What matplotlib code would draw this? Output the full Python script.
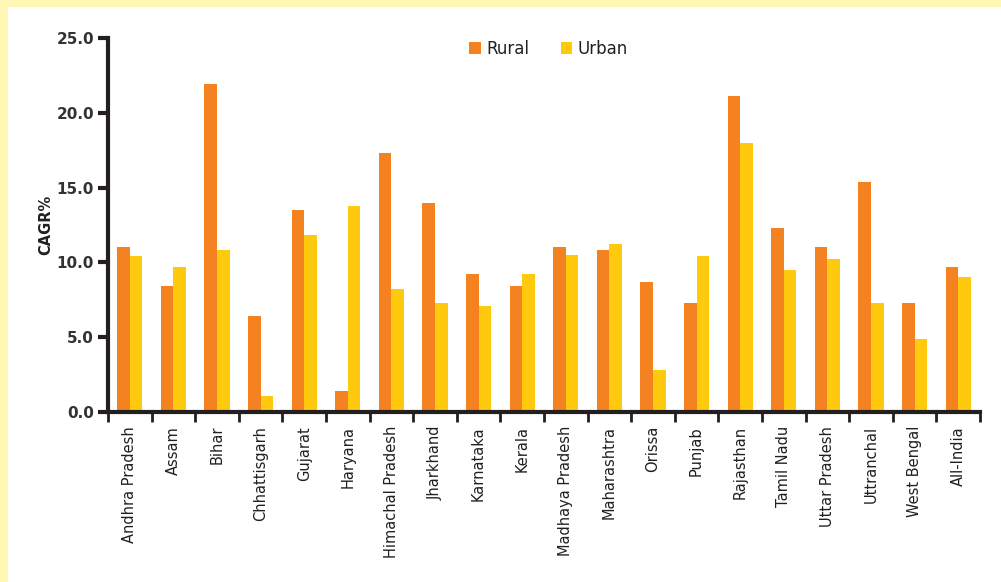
import numpy as np
import matplotlib
matplotlib.use("Agg")
import matplotlib.pyplot as plt
from matplotlib.patches import Rectangle

states = ["Andhra Pradesh", "Assam", "Bihar", "Chhattisgarh", "Gujarat", "Haryana",
          "Himachal Pradesh", "Jharkhand", "Karnataka", "Kerala", "Madhaya Pradesh",
          "Maharashtra", "Orissa", "Punjab", "Rajasthan", "Tamil Nadu", "Uttar Pradesh",
          "Uttranchal", "West Bengal", "All-India"]
rural = [11.0, 8.4, 21.9, 6.4, 13.5, 1.4, 17.3, 14.0, 9.2, 8.4, 11.0, 10.8, 8.7, 7.3,
         21.1, 12.3, 11.0, 15.4, 7.3, 9.7]
urban = [10.4, 9.7, 10.8, 1.1, 11.8, 13.8, 8.2, 7.3, 7.1, 9.2, 10.5, 11.2, 2.8, 10.4,
         18.0, 9.5, 10.2, 7.3, 4.9, 9.0]
yticks = [0, 5, 10, 15, 20, 25]

ORANGE = "#F58220"
YELLOW = "#FFC90E"
DARK = "#231F20"
FRAME = "#FFF8B4"

fig = plt.figure(figsize=(10.01, 5.82), dpi=100, facecolor="white")
# pale yellow frame on left and top edges
fig.patches.append(Rectangle((0, 0), 8 / 1001, 1, transform=fig.transFigure,
                             facecolor=FRAME, edgecolor="none"))
fig.patches.append(Rectangle((0, 1 - 7 / 582), 1, 7 / 582, transform=fig.transFigure,
                             facecolor=FRAME, edgecolor="none"))
ax = fig.add_axes([108 / 1001, 1 - 412 / 582, 872 / 1001, 374 / 582])
ax.set_facecolor("none")

x = np.arange(len(states))
w = 0.29
ax.bar(x - w / 2, rural, w, color=ORANGE, label="Rural")
ax.bar(x + w / 2, urban, w, color=YELLOW, label="Urban")

ax.set_xlim(-0.5, len(states) - 0.5)
ax.set_ylim(0, 25)
for s in ["top", "right"]:
    ax.spines[s].set_visible(False)
for s in ["left", "bottom"]:
    ax.spines[s].set_color(DARK)
    ax.spines[s].set_linewidth(3)

ax.set_yticks(yticks)
ax.set_yticklabels([f"{v:.1f}" for v in yticks], fontsize=11, fontweight="bold", color="#333333")
ax.tick_params(axis="y", length=7, width=3, color=DARK, pad=3)

ax.set_xticks(np.arange(len(states) + 1) - 0.5)
ax.set_xticklabels([])
ax.tick_params(axis="x", which="major", length=7, width=2, color=DARK)
ax.set_xticks(x, minor=True)
ax.set_xticklabels(states, minor=True, rotation=90, fontsize=10.5, color=DARK)
ax.tick_params(axis="x", which="minor", length=0, pad=10)

ax.set_ylabel("CAGR%", fontsize=10.5, fontweight="bold", color=DARK, labelpad=2)

ax.legend(loc="upper center", bbox_to_anchor=(0.505, 1.035), ncol=2, frameon=False,
          fontsize=12, handlelength=0.7, handleheight=0.7, handletextpad=0.3,
          columnspacing=1.9, labelcolor=DARK)

fig.savefig("out.png", dpi=100, facecolor=fig.get_facecolor())
